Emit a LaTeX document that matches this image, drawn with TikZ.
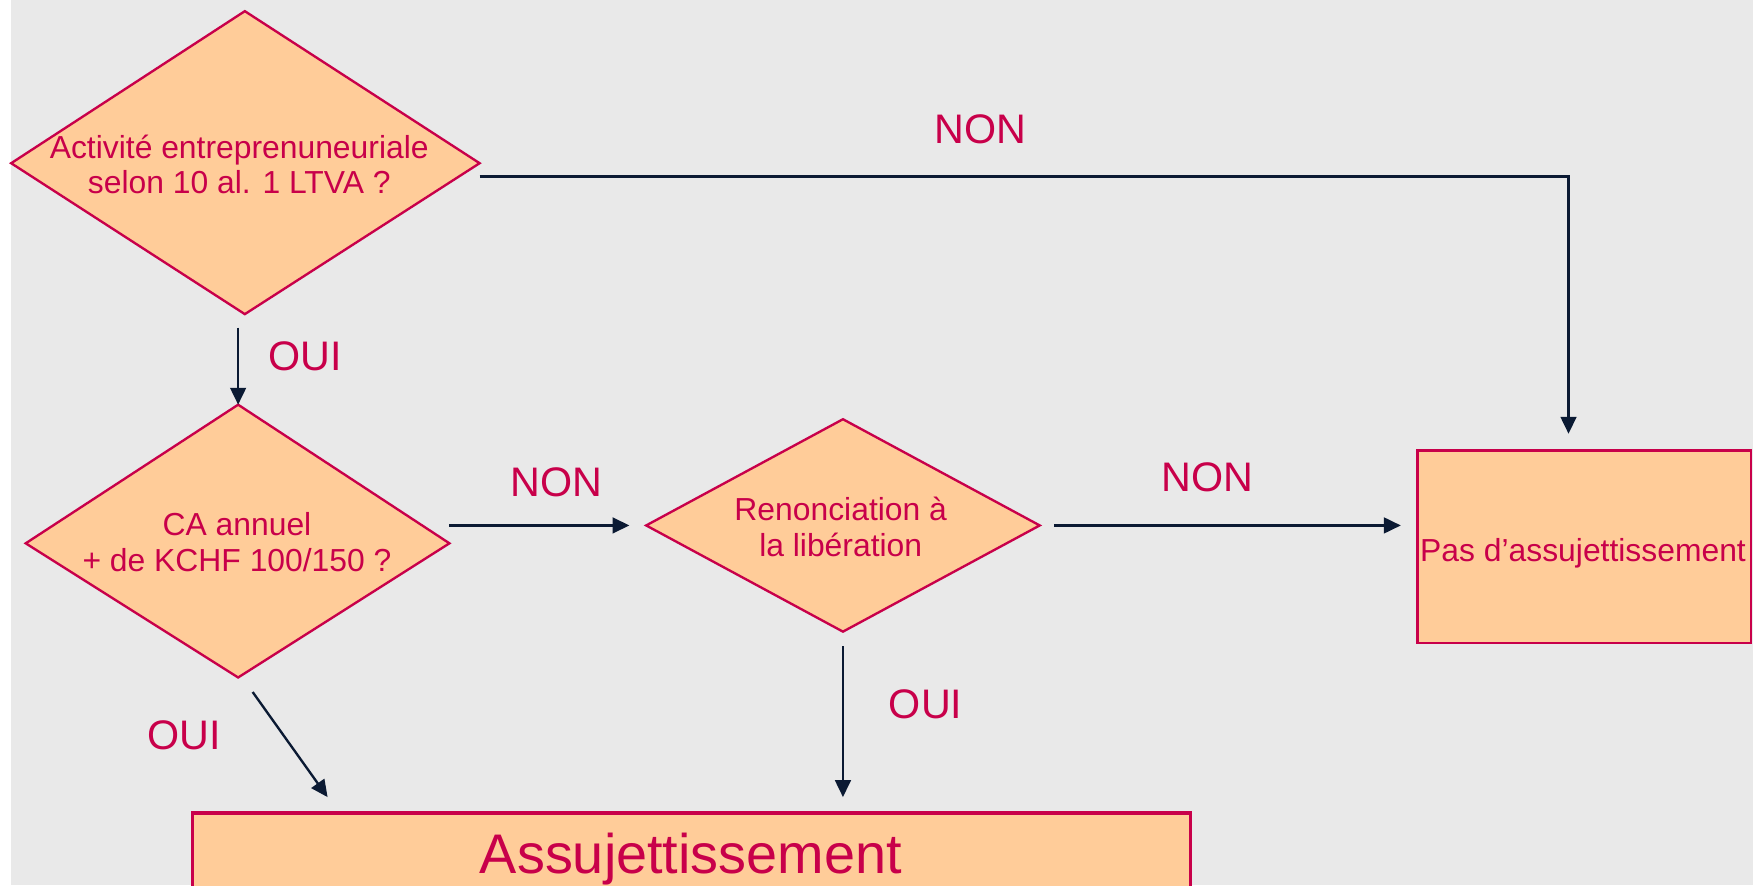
\documentclass[tikz,border=0pt]{standalone}
\usepackage{fontspec}
\setmainfont{Liberation Sans}
\usetikzlibrary{arrows.meta}
\definecolor{bg}{HTML}{E9E9E9}
\definecolor{peach}{HTML}{FFCC99}
\definecolor{crim}{HTML}{C8004A}
\definecolor{navy}{HTML}{0B1A33}
\begin{document}
\begin{tikzpicture}[x=0.01cm,y=-0.01cm,
  shapebox/.style={fill=peach,draw=crim,line width=0.6pt},
  txt/.style={text=crim,font=\fontsize{8.1}{9.1}\selectfont,align=center,inner sep=0pt},
  lbl/.style={text=crim,font=\fontsize{10.5}{12}\selectfont,inner sep=0pt},
  conn/.style={draw=navy,line width=0.6pt,-{Triangle[length=4.3pt,width=4pt]}}]
\useasboundingbox (0,0) rectangle (1568,792);
\clip (0,0) rectangle (1568,792);
\fill[bg] (10,0) rectangle (1568,792);

% decision 1
\draw[shapebox] (219,10) coordinate (d1t) -- (429,146) coordinate (d1r) -- (219,281) coordinate (d1b) -- (10,146) coordinate (d1l) -- cycle;
\node[txt] (t1) at (214,147) {Activité entreprenuneuriale\\selon 10 al. 1 LTVA ?};

% decision 2
\draw[shapebox] (213,362) coordinate (d2t) -- (402,486) coordinate (d2r) -- (213,606) coordinate (d2b) -- (23,486) coordinate (d2l) -- cycle;
\node[txt] (t2) at (212,485) {CA annuel\\+ de KCHF 100/150 ?};

% decision 3
\draw[shapebox] (754,375) coordinate (d3t) -- (930,470) coordinate (d3r) -- (754,565) coordinate (d3b) -- (578,470) coordinate (d3l) -- cycle;
\node[txt] (t3) at (752,471) {Renonciation à\\la libération};

% result boxes
\draw[shapebox] (1268,403) coordinate (p1) rectangle (1566,575) coordinate (p2);
\node[txt,anchor=base] (pas) at (1416,502) {Pas d’assujettissement};
\draw[shapebox,line width=0.9pt] (172,727) coordinate (a1) rectangle (1065,820) coordinate (a2);
\node[txt,anchor=base,font=\fontsize{14.2}{16}\selectfont] (ass) at (618,781) {Assujettissement};

% connector end points
\coordinate (c1s) at (429,158);
\coordinate (c1e) at (1403,388);
\coordinate (c2s) at (213,293);
\coordinate (c3s) at (402,470);
\coordinate (c3e) at (563,470);
\coordinate (c4s) at (943,470);
\coordinate (c4e) at (1253,470);
\coordinate (c5s) at (754,578);
\coordinate (c5e) at (754,713);
\coordinate (c6s) at (226,619);
\coordinate (c6e) at (293,713);

\draw[conn] (c1s) -| (c1e);
\draw[conn] (c2s) -- (d2t);
\draw[conn] (c3s) -- (c3e);
\draw[conn] (c4s) -- (c4e);
\draw[conn] (c5s) -- (c5e);
\draw[conn] (c6s) -- (c6e);

% labels
\node[lbl] (l1) at (877,116) {NON};
\node[lbl] (l2) at (273,319) {OUI};
\node[lbl] (l3) at (498,431) {NON};
\node[lbl] (l4) at (1080,427) {NON};
\node[lbl] (l5) at (828,630) {OUI};
\node[lbl] (l6) at (165,658) {OUI};
\end{tikzpicture}
\end{document}
